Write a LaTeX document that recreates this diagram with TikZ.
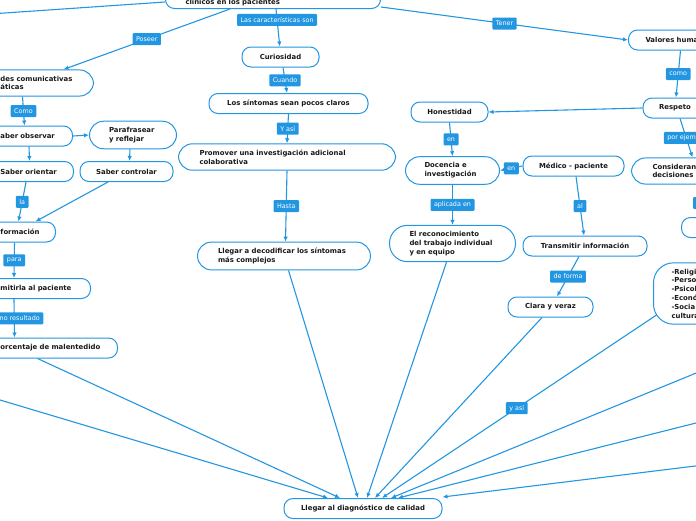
\documentclass[tikz,border=0pt]{standalone}
\usepackage{fontspec}
\newfontfamily\mapfont{DejaVu Sans}
\usetikzlibrary{arrows.meta}
\definecolor{mapblue}{RGB}{35,150,225}

\begin{document}
\begin{tikzpicture}[x=1pt,y=-1pt,
    concept/.style={draw=mapblue, line width=1pt, fill=white, text=black!90,
      rounded corners=9pt, minimum height=20pt, inner ysep=3pt,
      font=\mapfont\bfseries\fontsize{6.9}{8.8}\selectfont},
    multi/.style={align=left, inner ysep=6pt, rounded corners=14pt},
    lbl/.style={fill=mapblue, text=white, rounded corners=1pt, inner xsep=3.5pt,
      inner ysep=2pt, minimum height=12pt, font=\mapfont\fontsize{6.4}{7}\selectfont},
    link/.style={draw=mapblue, line width=1.1pt},
    flecha/.style={link, -{Latex[length=5pt,width=4.5pt]}}]
  \useasboundingbox (0,0) rectangle (696,520);
  \clip (0,0) rectangle (696,520);

  % Los conceptos
  \node[concept, anchor=south west, align=left, text width=175pt, inner xsep=20pt,
      text height=24pt] (clinicos) at (165,9) {clínicos en los pacientes};
  \node[concept, multi, anchor=west, text width=78pt, inner xsep=15pt] (habilidades)
      at (-15,83) {des comunicativas\\áticas};
  \node[concept, anchor=west, align=left, text width=57pt, inner xsep=15pt] (observar)
      at (-15,136) {aber observar};
  \node[concept, multi, anchor=west, text width=48pt, inner xsep=19.5pt] (parafrasear)
      at (89,135) {Parafrasear\\y reflejar};
  \node[concept, anchor=west, align=left, text width=58pt, inner xsep=15pt] (orientar)
      at (-15,171.5) {Saber orientar};
  \node[concept, minimum width=93pt] (controlar) at (126.5,171.5) {Saber controlar};
  \node[concept, anchor=west, align=left, text width=40pt, inner xsep=15pt] (informacion)
      at (-15,232) {formación};
  \node[concept, anchor=west, align=left, text width=75pt, inner xsep=15pt] (transmitirla)
      at (-15,288.5) {mitirla al paciente};
  \node[concept, anchor=west, align=left, text width=102pt, inner xsep=15pt] (malentendido)
      at (-15,348) {orcentaje de malentedido};

  \node[concept, minimum width=77pt] (curiosidad) at (280.5,57) {Curiosidad};
  \node[concept, minimum width=159pt] (sintomas) at (288.5,103.5) {Los síntomas sean pocos claros};
  \node[concept, multi, anchor=west, text width=175pt, inner xsep=21pt] (promover)
      at (178,157) {Promover una investigación adicional\\colaborativa};
  \node[concept, multi, anchor=west, text width=132pt, inner xsep=20.5pt] (decodificar)
      at (197,256) {Llegar a decodificar los síntomas\\más complejos};
  \node[concept, minimum width=158pt] (diagnostico) at (363,508.5) {Llegar al diagnóstico de calidad};

  \node[concept, anchor=west, align=left, text width=80pt, inner xsep=17pt] (valores)
      at (628,40) {Valores huma};
  \node[concept, minimum width=64pt] (respeto) at (675,108) {Respeto};
  \node[concept, minimum width=77pt] (honestidad) at (449.5,112) {Honestidad};
  \node[concept, multi, anchor=west, text width=56pt, inner xsep=19pt] (docencia)
      at (405,170.5) {Docencia e\\investigación};
  \node[concept, minimum width=101pt] (medico) at (573.5,166) {Médico - paciente};
  \node[concept, multi, anchor=west, text width=80pt, inner xsep=21pt] (consideran)
      at (631,171) {Consideran\\decisiones};
  \node[concept, multi, anchor=west, text width=86pt, inner xsep=20pt, rounded corners=18pt]
      (reconocimiento) at (389,243.5) {El reconocimiento\\del trabajo individual\\y en equipo};
  \node[concept, minimum width=124pt] (transmitir) at (585,246) {Transmitir información};
  \node[concept, minimum width=85pt] (clara) at (550.5,307) {Clara y veraz};
  \node[concept, multi, anchor=west, text width=80pt, inner xsep=18pt, rounded corners=20pt]
      (aspectos) at (653,293.5) {-Religi\\-Perso\\-Psicol\\-Econó\\-Socia\\cultura};
  \node[concept, anchor=west, minimum width=60pt] (cortado) at (681,227.5) {};
  \node[lbl, anchor=west, minimum width=20pt] (cortadolbl) at (693,203) {};

  % Las relaciones
  \coordinate (izq) at (-10,14);
  \coordinate (izqb) at (-10,397);
  \coordinate (der1) at (706,369);
  \coordinate (der2) at (706,420.5);
  \coordinate (der3) at (706,464.7);

  \draw[link] ([yshift=7pt]clinicos.south west) -- (izq);
  \draw[flecha] ([xshift=65pt]clinicos.south west) -- node[lbl] {Poseer}
      ([xshift=24pt]habilidades.north);
  \draw[flecha] ([xshift=3pt]clinicos.south) -- node[lbl,pos=0.29] {Las características son}
      ([xshift=-0.7pt]curiosidad.north);
  \draw[flecha] ([yshift=2pt]clinicos.south east) -- node[lbl] {Tener} (valores.west);

  \draw[flecha] ([xshift=-17pt]habilidades.south) -- node[lbl] {Como}
      ([xshift=-4.5pt]observar.north);
  \draw[flecha] (observar.east) -- (parafrasear.west);
  \draw[flecha] (observar.south) -- (orientar.north);
  \draw[flecha] ([xshift=-3pt]parafrasear.south) -- ([xshift=3pt]controlar.north);
  \draw[flecha] ([xshift=-3.5pt]orientar.south) -- node[lbl] {la} ([xshift=-2pt]informacion.north);
  \draw[flecha] ([xshift=-18.5pt]controlar.south) -- ([xshift=15pt]informacion.north);
  \draw[flecha] ([xshift=-6pt]informacion.south) -- node[lbl] {para}
      ([xshift=-24pt]transmitirla.north);
  \draw[flecha] ([xshift=-24pt]transmitirla.south) -- node[lbl,xshift=5.5pt] {no resultado}
      ([xshift=-37pt]malentendido.north);

  \draw[flecha] ([xshift=2.5pt]curiosidad.south) -- node[lbl] {Cuando}
      ([xshift=-1.5pt]sintomas.north);
  \draw[flecha] (sintomas.south) -- node[lbl] {Y así} (promover.north);
  \draw[flecha] (promover.south) -- node[lbl] {Hasta} ([xshift=1.5pt]decodificar.north);

  \draw[flecha] ([xshift=-5pt]valores.south) -- node[lbl] {como} ([xshift=1pt]respeto.north);
  \draw[flecha] (respeto.west) -- (honestidad.east);
  \draw[flecha] (honestidad.south) -- node[lbl] {en} (docencia.north);
  \draw[flecha] (medico.west) -- node[lbl] {en} (docencia.east);
  \draw[flecha] ([xshift=5pt]respeto.south) -- node[lbl,anchor=west,xshift=-23pt] {por ejemp}
      (consideran.north);
  \draw[flecha] (docencia.south) -- node[lbl] {aplicada en} (reconocimiento.north);
  \draw[flecha] ([xshift=2.5pt]medico.south) -- node[lbl] {al} ([xshift=-1pt]transmitir.north);
  \draw[flecha] ([xshift=-6pt]transmitir.south) -- node[lbl] {de forma}
      ([xshift=6.5pt]clara.north);

  % Hacia el diagnóstico
  \draw[flecha] (izqb) -- ([xshift=-35pt]diagnostico.north);
  \draw[flecha] ([xshift=-14pt]malentendido.south) -- ([xshift=-23pt]diagnostico.north);
  \draw[flecha] ([xshift=4.5pt]decodificar.south) -- ([xshift=-5pt]diagnostico.north);
  \draw[flecha] ([xshift=-6pt]reconocimiento.south) -- ([xshift=4pt]diagnostico.north);
  \draw[flecha] ([xshift=-8.5pt]clara.south) -- ([xshift=12pt]diagnostico.north);
  \draw[flecha] ([xshift=4pt,yshift=10pt]aspectos.south west) -- node[lbl,pos=0.51] {y así}
      ([xshift=19pt]diagnostico.north);
  \draw[flecha] (der1) -- ([xshift=28pt]diagnostico.north);
  \draw[flecha] (der2) -- ([xshift=35pt]diagnostico.north);
  \draw[flecha] (der3) -- ([yshift=1pt]diagnostico.north east);
\end{tikzpicture}
\end{document}
